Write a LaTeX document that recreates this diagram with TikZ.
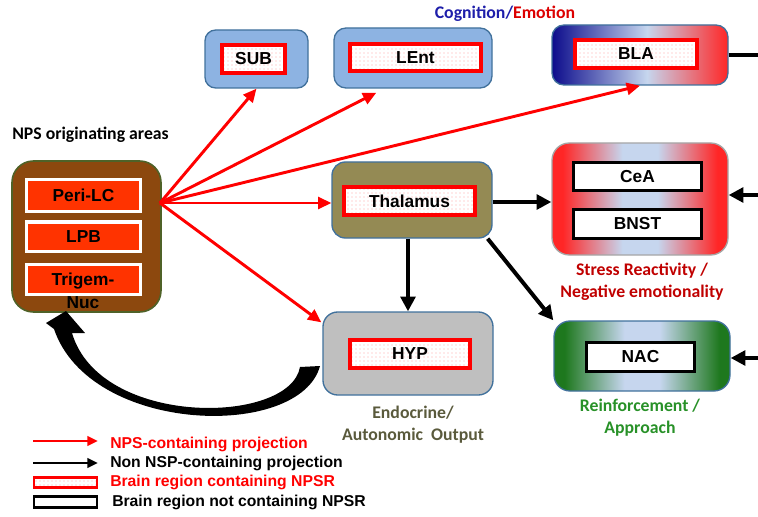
\documentclass[tikz,border=0pt]{standalone}
\usepackage{fontspec}
\setmainfont{Liberation Sans}
\newfontfamily\calfont{Carlito}
\usetikzlibrary{arrows.meta,patterns,fit,calc}

% palette
\definecolor{boxedge}{RGB}{65,113,156}
\definecolor{subblue}{RGB}{141,179,226}
\definecolor{npsbrown}{RGB}{140,72,14}
\definecolor{npsedge}{RGB}{79,98,40}
\definecolor{npsorange}{RGB}{255,51,0}
\definecolor{thalolive}{RGB}{148,138,84}
\definecolor{hypgray}{RGB}{191,191,191}
\definecolor{navyc}{RGB}{12,12,140}
\definecolor{paleblue}{RGB}{198,214,238}
\definecolor{brightred}{RGB}{255,38,38}
\definecolor{nacgreen}{RGB}{30,120,30}
\definecolor{arrowred}{RGB}{255,0,0}
\definecolor{cogblue}{RGB}{30,30,170}
\definecolor{emored}{RGB}{220,0,0}
\definecolor{stressred}{RGB}{192,0,0}
\definecolor{reingreen}{RGB}{40,145,40}
\definecolor{endoolive}{RGB}{90,90,60}

% horizontal gradients of the output regions
\pgfdeclarehorizontalshading{blashade}{100bp}{color(0bp)=(navyc); color(25bp)=(navyc); color(52bp)=(paleblue); color(75bp)=(brightred); color(100bp)=(brightred)}
\pgfdeclarehorizontalshading{ceashade}{100bp}{color(0bp)=(brightred); color(25bp)=(brightred); color(28bp)=(brightred); color(45bp)=(paleblue); color(55bp)=(paleblue); color(72bp)=(brightred); color(75bp)=(brightred); color(100bp)=(brightred)}
\pgfdeclarehorizontalshading{nacshade}{100bp}{color(0bp)=(nacgreen); color(25bp)=(nacgreen); color(28bp)=(nacgreen); color(45bp)=(paleblue); color(55bp)=(paleblue); color(72bp)=(nacgreen); color(75bp)=(nacgreen); color(100bp)=(nacgreen)}

\newcommand\boxfont{\fontsize{13}{15}\selectfont\bfseries}
\newcommand\capfont{\calfont\fontsize{13.3}{16.5}\selectfont\bfseries}
\newcommand\legfont{\fontsize{11.8}{14}\selectfont\bfseries}

\tikzset{
  region/.style={rounded corners=#1, draw=boxedge, line width=1pt, inner sep=0pt},
  npsr/.style={draw=arrowred, line width=3pt, preaction={fill=white},
    pattern=dots, pattern color=red!35, inner sep=0pt},
  nonpsr/.style={draw=black, line width=2.3pt, fill=white, inner sep=0pt},
  srcbox/.style={draw=white, line width=2.25pt, fill=npsorange, inner sep=0pt},
  boxlabel/.style={font=\boxfont, inner sep=0pt, anchor=center},
  npsarrow/.style={draw=arrowred, line width=2.2pt, -{Triangle[length=10pt,width=9pt]}},
  plainarrow/.style={draw=black, line width=3pt, -{Triangle[length=11pt,width=11pt]}},
  caption/.style={font=\capfont, align=center, inner sep=0pt},
  legtext/.style={font=\legfont, anchor=west, inner sep=0pt}
}

\begin{document}
\begin{tikzpicture}[x=0.75pt,y=-0.75pt]
\useasboundingbox (0,0) rectangle (758,517);

% ---- NPS originating areas
\node[caption, anchor=west] (title) at (12,135) {NPS originating areas};
\node[rounded corners=16pt, draw=npsedge, line width=1.2pt, fill=npsbrown, inner sep=0pt,
      fit={(12,161) (161,312)}] (nps) {};
\node[srcbox, fit={(26.5,179.5) (140.5,211.5)}] (peri) {};
\node[boxlabel] (perilbl) at (peri.center) {Peri-LC};
\node[srcbox, fit={(26.5,222) (140.5,251)}] (lpb) {};
\node[boxlabel] (lpblbl) at (lpb.center) {LPB};
\node[srcbox, fit={(26.5,264) (140.5,294)}] (trig) {};
\node[boxlabel, align=center] (triglbl) at (83,291) {Trigem-\\[2pt]Nuc};

% ---- cognition / emotion targets
\node[caption] (cogemo) at (505,14) {{\color{cogblue}Cognition/}{\color{emored}Emotion}};
\node[region=8pt, fill=subblue, fit={(205,30) (308,88)}] (sub) {};
\node[npsr, fit={(222,45) (285,73)}] (subin) {};
\node[boxlabel] (sublbl) at (subin.center) {SUB};
\node[region=9pt, fill=subblue, fit={(334,28) (492,88)}] (lent) {};
\node[npsr, fit={(350,44) (481,71)}] (lentin) {};
\node[boxlabel] (lentlbl) at (lentin.center) {LEnt};
\node[region=9pt, shading=blashade, fit={(552,25) (728,85)}] (bla) {};
\node[npsr, fit={(575,40) (697,68)}] (blain) {};
\node[boxlabel] (blalbl) at (blain.center) {BLA};

% ---- thalamus and hypothalamus
\node[region=10pt, fill=thalolive, fit={(332,162) (492,238)}] (thal) {};
\node[npsr, fit={(344,187) (475,215)}] (thalin) {};
\node[boxlabel] (thallbl) at (thalin.center) {Thalamus};
\node[region=11pt, fill=hypgray, fit={(323,312) (493,395)}] (hyp) {};
\node[npsr, fit={(350,340) (470,368)}] (hypin) {};
\node[boxlabel] (hyplbl) at (hypin.center) {HYP};
\node[caption, text=endoolive] (endolbl) at (413,425) {Endocrine/\\Autonomic\ \ Output};

% ---- stress reactivity
\node[region=13pt, draw=gray!70, shading=ceashade, fit={(552,143) (728,255)}] (cea) {};
\node[nonpsr, fit={(573.5,162.5) (701.5,190.5)}] (ceain) {};
\node[boxlabel] (cealbl) at (ceain.center) {CeA};
\node[nonpsr, fit={(573.5,209.5) (701.5,238.5)}] (bnst) {};
\node[boxlabel] (bnstlbl) at (bnst.center) {BNST};
\node[caption, text=stressred] (stresslbl) at (642,282) {Stress Reactivity /\\Negative emotionality};

% ---- reinforcement
\node[region=12pt, shading=nacshade, fit={(554,321) (730,391)}] (nac) {};
\node[nonpsr, fit={(586.5,342.5) (694.5,371.5)}] (nacin) {};
\node[boxlabel] (naclbl) at (nacin.center) {NAC};
\node[caption, text=reingreen] (reinlbl) at (640,418) {Reinforcement /\\Approach};

% ---- NPS-containing projections
\coordinate (src) at (160,203);
\draw[npsarrow] (src) -- (sub.south);
\draw[npsarrow] (src) -- ($(lent.south west)+(43,4)$);
\draw[npsarrow] (src) -- (bla.south);
\draw[npsarrow] (src) -- (src -| thal.west);
\draw[npsarrow] (src) -- ($(hyp.north west)+(-1,11)$);

% ---- other projections
\draw[plainarrow] (thal.east |- 0,202) -- (cea.west |- 0,202);
\draw[plainarrow] ($(thal.south)+(-4,0)$) -- (hyp.north -| 408,0);
\draw[plainarrow] ($(thal.south east)+(-5,0)$) -- (nac.north west);
\coordinate (blaout) at (758,55);
\draw[black, line width=3pt] (bla.east |- blaout) -- (blaout);
\coordinate (ceaext) at (758,195);
\draw[plainarrow] (ceaext) -- (ceaext -| cea.east);
\coordinate (nacext) at (758,358);
\draw[plainarrow] (nacext) -- (nacext -| nac.east);

% ---- feedback from HYP to the NPS areas (tapered curved arrow)
\fill[black] (320,366) .. controls (300,440) and (90,435) .. (54,329)
  -- (46,323) -- (66,311) -- (85,333) -- (72,333)
  .. controls (100,428) and (290,425) .. (300,367) -- cycle;

% ---- legend
\coordinate (la1) at (33,441); \coordinate (la2) at (98,441);
\coordinate (lb1) at (33,463); \coordinate (lb2) at (98,463);
\draw[draw=arrowred, line width=2pt, -{Triangle[length=8pt,width=7pt]}] (la1) -- (la2);
\draw[draw=black, line width=2pt, -{Triangle[length=8pt,width=7pt]}] (lb1) -- (lb2);
\node[npsr, line width=1.8pt, fit={(34,477.5) (97,487.5)}] (legbox1) {};
\node[nonpsr, line width=1.8pt, fit={(34,496.5) (97,507.5)}] (legbox2) {};
\node[legtext, text=arrowred] (leg1) at (110,444) {NPS-containing projection};
\node[legtext] (leg2) at (110,463) {Non NSP-containing projection};
\node[legtext, text=arrowred] (leg3) at (110,482) {Brain region containing NPSR};
\node[legtext] (leg4) at (112,502) {Brain region not containing NPSR};
\end{tikzpicture}
\end{document}
